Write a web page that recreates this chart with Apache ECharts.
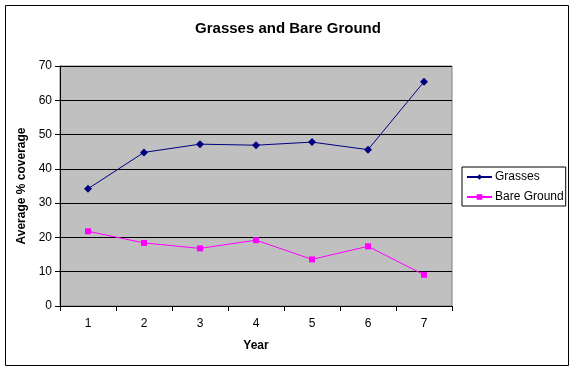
<!DOCTYPE html>
<html>
<head>
<meta charset="utf-8">
<script src="https://cdn.jsdelivr.net/npm/echarts@6/dist/echarts.min.js"></script>
<style>html,body{margin:0;padding:0;background:#fff}#c{width:576px;height:372px}</style>
</head>
<body>
<div id="c"></div>
<script>
var categories = ['1', '2', '3', '4', '5', '6', '7'];
var grasses = [34.2, 44.8, 47.2, 46.9, 47.8, 45.6, 65.4];
var bareGround = [21.8, 18.4, 16.8, 19.2, 13.6, 17.4, 9.1];
var chartTitle = 'Grasses and Bare Ground';
var xTitle = 'Year';
var yTitle = 'Average % coverage';

var font = 'Arial, "Liberation Sans", sans-serif';
var chart = echarts.init(document.getElementById('c'), null, {renderer: 'canvas'});
chart.setOption({
  animation: false,
  backgroundColor: '#fff',
  textStyle: {fontFamily: font},
  title: {
    text: chartTitle,
    left: 'center',
    top: 16,
    textStyle: {fontFamily: font, fontSize: 15, fontWeight: 'bold', color: '#000'}
  },
  graphic: [{
    type: 'rect',
    shape: {x: 5.5, y: 5.5, width: 563, height: 360},
    style: {fill: null, stroke: '#000', lineWidth: 1},
    silent: true,
    z: 100
  }],
  legend: {
    orient: 'vertical',
    left: 462,
    top: 167,
    padding: [3, 2, 2, 4],
    itemGap: 6,
    itemWidth: 25,
    itemHeight: 7,
    borderColor: '#000',
    borderWidth: 1,
    textStyle: {fontFamily: font, fontSize: 12, color: '#000', padding: [0, 0, 0, -2], lineHeight: 14},
    data: ['Grasses', 'Bare Ground']
  },
  grid: {
    left: 60, top: 66, width: 392, height: 240,
    show: true,
    backgroundColor: '#c0c0c0',
    borderColor: '#808080',
    borderWidth: 1,
    containLabel: false,
    outerBoundsMode: 'none'
  },
  xAxis: {
    type: 'category',
    data: categories,
    boundaryGap: true,
    name: xTitle,
    nameLocation: 'middle',
    nameGap: 34,
    nameTextStyle: {fontFamily: font, fontSize: 12, fontWeight: 'bold', color: '#000'},
    axisLine: {lineStyle: {color: '#000', width: 1}},
    axisTick: {show: true, length: 5, lineStyle: {color: '#000'}},
    axisLabel: {fontFamily: font, fontSize: 12, color: '#000', margin: 12},
    splitLine: {show: false}
  },
  yAxis: {
    type: 'value',
    min: 0, max: 70, interval: 10,
    name: yTitle,
    nameLocation: 'middle',
    nameGap: 27,
    nameTextStyle: {fontFamily: font, fontSize: 12, fontWeight: 'bold', color: '#000'},
    axisLine: {show: true, lineStyle: {color: '#000', width: 1}},
    axisTick: {show: true, length: 5, lineStyle: {color: '#000'}},
    axisLabel: {fontFamily: font, fontSize: 12, color: '#000', margin: 8},
    splitLine: {show: true, lineStyle: {color: '#000', width: 1}}
  },
  series: [{
    name: 'Grasses',
    type: 'line',
    data: grasses,
    symbol: 'diamond',
    symbolSize: 8,
    color: '#000080',
    lineStyle: {color: '#000080', width: 1},
    itemStyle: {color: '#000080'}
  }, {
    name: 'Bare Ground',
    type: 'line',
    data: bareGround,
    symbol: 'rect',
    symbolSize: 6,
    color: '#ff00ff',
    lineStyle: {color: '#ff00ff', width: 1},
    itemStyle: {color: '#ff00ff'}
  }]
});
</script>
</body>
</html>
